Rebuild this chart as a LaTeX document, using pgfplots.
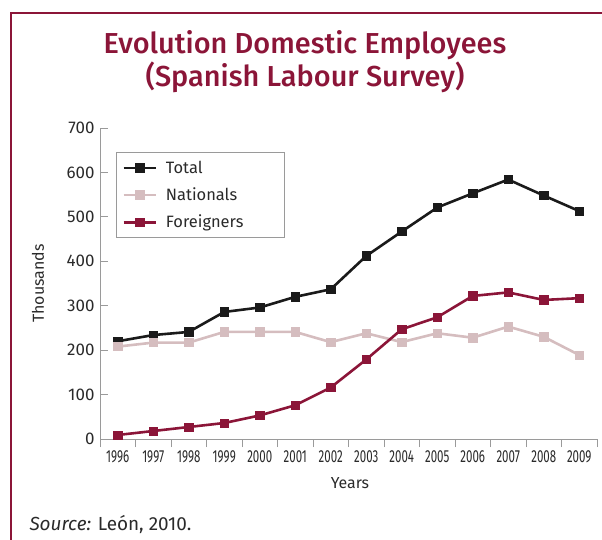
\documentclass[border=0pt]{standalone}
\usepackage{fontspec}
\setmainfont{Fira Sans}
\newfontfamily\condfont[FakeStretch=0.66]{Fira Sans}
\newfontfamily\titlefont{Fira Sans Medium}
\usepackage{pgfplots}
\usepackage{pgfplotstable}
\pgfplotsset{compat=1.18}
\definecolor{maroon}{HTML}{8B1538}
\definecolor{natpink}{HTML}{D5BDBF}
\definecolor{totblack}{HTML}{1A1A1A}
\definecolor{axgray}{HTML}{9A9A9A}
\definecolor{txtgray}{HTML}{2A2A2A}

% x = 0 is 1996, ..., 13 is 2009
\pgfplotstableread{
x total nationals foreigners
0  220 208   9
1  234 217  18
2  241 217  27
3  286 241  36
4  296 241  53
5  320 241  76
6  337 218 116
7  412 238 179
8  467 218 247
9  521 238 274
10 553 228 322
11 584 253 330
12 548 230 313
13 513 189 317
}\domestic

\begin{document}
\begin{tikzpicture}
\useasboundingbox (0,0) rectangle (602bp,-540bp);
\draw[maroon, line width=2.2bp] (11bp,-541bp) -- (11bp,-13bp) -- (603bp,-13bp);
\node[maroon, font=\titlefont\fontsize{29}{33}\selectfont] at (305bp,-45bp) {Evolution Domestic Employees};
\node[maroon, font=\titlefont\fontsize{29}{33}\selectfont] at (305bp,-77bp) {(Spanish Labour Survey)};
\node[anchor=west, txtgray, font=\fontsize{19}{22}\selectfont] at (26bp,-524bp) {\textit{Source:} León, 2010.};

\begin{axis}[
    at={(100bp,-439bp)}, anchor=south west,
    scale only axis, width=497bp, height=311bp,
    xmin=-0.5, xmax=13.5, ymin=0, ymax=700,
    axis lines*=left,
    axis line style={axgray, line width=1bp},
    tick align=inside,
    major tick length=8bp, minor tick length=8bp,
    ytick={0,100,...,700},
    xtick={0,...,13},
    xticklabels={1996,1997,1998,1999,2000,2001,2002,2003,2004,2005,2006,2007,2008,2009},
    major x tick style={draw=none},
    minor xtick={-0.5,0.5,...,13.5},
    minor x tick style={axgray, line width=1bp, yshift=-8bp},
    major y tick style={axgray, line width=1bp},
    /pgf/number format/assume math mode=true,
    yticklabel style={font=\fontsize{17}{20}\selectfont, text=txtgray, xshift=-2bp},
    xticklabel style={font=\condfont\fontsize{17.5}{20}\selectfont, text=txtgray, yshift=-8bp},
    xlabel={Years}, ylabel={Thousands},
    xlabel style={at={(axis description cs:0.503,-0.142)}, anchor=center, font=\fontsize{16}{18}\selectfont, text=txtgray},
    ylabel style={at={(axis description cs:-0.125,0.5)}, anchor=center, font=\fontsize{16}{18}\selectfont, text=txtgray},
    legend style={at={(axis description cs:0.032,0.923)}, anchor=north west,
        draw=axgray, line width=1bp, font=\fontsize{16.5}{19}\selectfont, text=txtgray,
        inner xsep=6bp, inner ysep=6.5bp, row sep=9bp, cells={anchor=west}},
    legend image code/.code={\draw[mark repeat=2,mark phase=2,#1] plot coordinates {(0bp,0bp) (16bp,0bp) (32bp,0bp)};},
    every axis plot/.append style={line width=2.6bp, mark=square*, mark size=4.2bp, mark options={solid, line width=0.6bp}},
]
\addplot[color=totblack] table[x=x, y=total] {\domestic};
\addlegendentry{\makebox[118bp][l]{\hspace{7bp}Total}}
\addplot[color=natpink] table[x=x, y=nationals] {\domestic};
\addlegendentry{\makebox[118bp][l]{\hspace{7bp}Nationals}}
\addplot[color=maroon] table[x=x, y=foreigners] {\domestic};
\addlegendentry{\makebox[118bp][l]{\hspace{7bp}Foreigners}}
\end{axis}
\end{tikzpicture}
\end{document}
